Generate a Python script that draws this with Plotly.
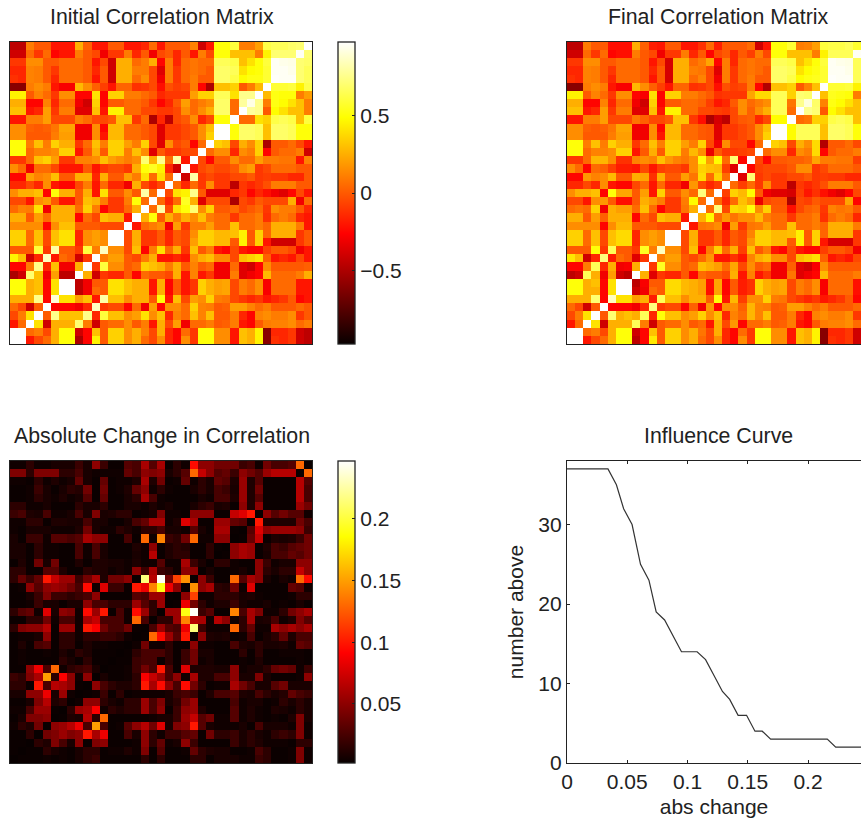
import plotly.graph_objects as go

# upper-left triangles of the symmetric matrices, read row by row from the top (hundredths)
INITIAL_ROWS = [
[-45,-45,10,0,0,-20,-20,-20,25,2,-20,-20,0,0,-20,-20,-15,5,-20,0,0,0,12,-40,-20,50,50,60,10,10,20,62,65,65,68,70,97],
[-40,-40,5,-10,5,-25,-20,-20,10,0,-5,-30,-10,-10,10,-15,0,-30,-5,0,-15,0,-20,10,-5,50,50,30,30,30,10,45,70,70,70,95],
[-10,-10,15,15,0,0,5,5,5,0,-20,-5,-40,25,25,5,10,25,-25,10,-15,5,8,5,5,65,65,62,30,40,50,60,95,93,92],
[-15,-15,12,10,0,-10,5,5,5,0,-15,0,-40,25,25,10,10,-5,-35,10,-10,5,8,5,0,68,68,65,40,48,50,58,95,95],
[-12,-15,12,10,0,-15,5,5,5,0,-20,0,-40,25,25,5,15,-5,-30,10,-10,5,10,0,0,68,68,62,48,52,52,58,96],
[-60,-60,10,15,10,-20,-28,-28,28,15,2,-8,-20,3,3,-12,-10,-5,-22,-3,-8,-5,10,-25,-50,30,30,35,0,10,28,97],
[45,45,0,12,5,-10,15,15,-25,-25,40,-25,35,35,10,10,5,0,-15,-10,-10,-10,20,35,35,65,65,40,75,75,97],
[25,25,-25,-25,12,-15,5,5,-30,-40,35,-25,0,0,5,5,0,-10,-25,-15,0,20,5,10,15,68,68,5,78,92],
[30,30,-20,-15,20,-10,10,10,-35,-35,30,-20,45,45,5,5,-5,-5,-10,-10,-5,15,5,15,25,68,68,5,97],
[-20,-20,10,10,20,-5,-5,-5,10,5,-5,-5,0,30,30,-10,5,-50,-15,-45,-5,0,15,-15,-5,50,50,97],
[15,15,2,0,2,8,22,22,-30,-30,15,-25,28,28,5,5,0,-5,-35,-10,-10,-5,0,15,30,97,97],
[15,15,0,0,0,10,20,20,-30,-30,15,-20,28,28,5,5,0,-5,-35,-10,-10,-5,0,15,35,97],
[50,50,10,30,10,35,25,25,-10,5,30,10,35,35,20,10,35,-5,-35,15,-5,0,-25,5,97],
[50,50,5,12,12,15,35,35,-20,0,25,0,35,35,10,30,15,-35,0,-10,-10,-5,-5,97],
[-10,-10,5,30,35,20,-10,-10,12,12,15,30,20,15,10,15,70,25,75,5,80,-20,97],
[15,5,-30,5,5,-5,-20,-20,-20,0,-20,-10,-5,-5,-10,25,50,55,45,-15,-40,97],
[-25,-25,20,12,15,30,0,0,25,25,-15,25,0,0,20,10,40,5,40,5,97],
[-15,-15,-5,-15,15,-20,-25,-25,-5,10,-20,5,-15,-15,-30,25,-5,-15,-5,97],
[15,25,25,30,-25,50,25,25,0,25,-20,40,0,0,15,0,80,5,97],
[-5,-5,-20,15,20,0,-20,-20,0,30,25,10,-10,-10,10,50,5,97],
[5,12,10,40,-30,25,25,25,5,35,10,-25,-10,-10,5,25,97],
[25,25,0,20,5,25,25,25,-25,5,-5,30,25,25,-20,97],
[15,15,15,15,-25,15,30,30,0,0,0,-5,-5,-5,97],
[35,35,5,30,-5,30,40,40,-15,15,20,15,97,97],
[35,35,5,30,-5,30,40,40,-15,15,20,15,97],
[0,0,0,60,-10,80,0,0,-10,60,10,85],
[45,30,-40,-15,85,-20,5,0,-40,-10,97],
[-25,-25,10,75,-15,30,-30,-30,25,97],
[-50,-40,70,30,-30,20,-45,-45,97],
[50,50,25,30,-25,40,97,97],
[50,50,25,30,-25,40,97],
[25,25,25,75,-25,90],
[5,-5,-40,0,97],
[-5,10,40,97],
[-20,5,97],
[97,97],
[97],
]

FINAL_ROWS = [
[-45,-45,10,0,0,-22,-22,-22,25,2,-18,-20,0,0,-20,-20,-12,5,-17,0,0,0,5,-40,-20,50,50,58,10,12,20,60,62,62,65,57,97],
[-40,-40,5,-10,5,-25,-22,-22,10,0,-5,-30,-10,-10,10,-15,0,-25,-5,0,-15,0,-8,10,-5,50,50,30,30,30,10,45,65,65,65,95],
[-10,-10,15,15,0,0,5,5,5,0,-20,-5,-38,25,25,5,10,22,-25,10,-15,5,8,5,5,65,65,62,30,40,50,60,95,93,92],
[-15,-15,12,10,0,-10,5,5,5,0,-15,0,-38,25,25,10,8,-5,-35,10,-10,5,8,5,0,68,68,65,40,48,52,58,95,95],
[-12,-15,12,10,0,-15,5,5,5,0,-20,0,-38,25,25,5,12,-5,-30,10,-10,5,10,0,0,68,68,62,48,52,54,58,96],
[-60,-60,10,15,10,-20,-28,-28,28,15,2,-8,-20,3,3,-12,-10,-5,-22,-3,-8,-5,10,-25,-48,30,30,35,0,12,30,97],
[45,45,0,12,5,-10,15,15,-25,-28,40,-25,35,35,10,10,5,0,-12,-10,-10,-10,22,38,38,65,65,35,70,68,97],
[25,25,-25,-25,12,-15,5,5,-30,-40,35,-25,0,0,5,5,2,-8,-20,-15,0,15,5,10,15,65,65,8,75,90],
[30,30,-20,-15,20,-10,10,10,-35,-35,30,-20,45,45,5,5,-5,-5,-8,-10,-5,15,2,15,25,65,65,5,97],
[-20,-20,10,10,20,-5,-5,-5,8,2,-5,-5,0,30,30,-10,-22,-50,-38,-45,-5,0,2,-15,-5,48,48,97],
[15,15,2,0,2,8,22,22,-30,-30,15,-25,28,28,5,5,0,-2,-35,-10,-10,-5,0,15,30,97,97],
[15,15,0,0,0,10,20,20,-30,-30,15,-20,28,28,5,5,0,-2,-35,-10,-10,-5,0,15,35,97],
[50,50,10,30,10,35,25,25,-10,5,30,10,35,35,20,10,35,-5,-30,15,-5,-5,-25,5,97],
[50,50,5,12,12,15,35,35,-20,0,25,0,35,35,10,28,15,-32,0,-10,-10,-8,-5,97],
[-10,-10,5,27,27,15,-12,-12,12,15,12,30,18,12,8,15,50,20,48,5,70,-25,97],
[15,5,-25,5,2,-8,-18,-18,-20,-5,-20,-8,-5,-5,-10,15,35,30,28,-8,-35,97],
[-25,-25,18,12,15,28,0,0,25,22,-12,25,0,0,20,8,38,5,35,5,97],
[-15,-15,-5,-15,15,-20,-25,-25,-5,5,-20,5,-15,-15,-30,18,-5,-15,-8,97],
[15,25,25,30,-25,50,22,22,0,20,-20,35,0,0,15,5,72,5,97],
[-5,-5,-20,15,18,0,-22,-22,0,25,18,10,-10,-10,10,48,5,97],
[5,8,5,35,-30,25,20,20,5,30,5,-25,-10,-10,8,25,97],
[25,25,0,20,2,25,25,25,-25,5,-5,30,25,25,-20,97],
[15,15,15,15,-25,15,28,28,0,0,0,-5,-5,-5,97],
[35,35,5,30,-5,30,38,38,-15,15,20,15,97,97],
[35,35,5,30,-5,30,38,38,-15,15,20,15,97],
[0,0,0,50,-10,65,0,0,-10,55,10,85],
[42,30,-40,-15,72,-18,5,0,-35,-10,97],
[-25,-25,10,65,-15,25,-30,-28,25,97],
[-45,-40,65,25,-30,20,-40,-45,97],
[50,50,25,30,-25,40,97,97],
[50,50,25,25,-25,40,97],
[25,25,25,70,-25,85],
[5,-5,-40,0,97],
[-5,10,40,97],
[-20,5,97],
[97,97],
[97],
]

# absolute change (thousandths)
CHANGE_ROWS = [
[5,5,15,5,5,8,8,8,20,8,50,20,3,3,30,25,60,30,60,3,15,5,95,50,50,40,40,40,20,25,5,40,25,25,30,130,3],
[45,45,15,45,45,45,15,15,25,8,5,5,5,5,35,25,50,45,50,8,15,30,130,70,50,30,35,20,50,40,30,55,65,65,65,3],
[5,5,3,15,5,10,5,8,35,8,3,35,3,5,5,10,60,10,40,3,5,35,5,15,8,35,30,10,55,10,30,3,3,3,3],
[3,3,5,20,8,3,8,15,12,40,3,40,3,5,10,35,50,5,15,5,3,3,8,15,8,25,20,8,55,10,40,3,3,3],
[3,3,5,15,8,5,10,5,8,30,3,35,3,3,8,15,60,25,5,3,3,3,3,8,5,25,25,10,55,10,30,3,3],
[15,15,5,5,8,3,3,3,15,8,8,15,3,3,8,8,5,10,5,8,3,3,8,15,20,8,10,3,50,10,50,3],
[20,25,10,8,25,5,5,8,25,8,45,8,10,15,15,3,5,8,45,5,5,3,50,50,50,3,3,70,80,100,0],
[5,5,15,15,3,10,10,8,8,25,8,8,3,3,8,25,35,60,60,5,10,80,60,3,3,55,55,35,30,0],
[5,3,8,8,8,5,5,5,10,40,8,5,5,15,10,5,15,15,25,8,8,5,30,8,3,60,60,3,0],
[8,3,20,20,5,30,30,25,30,60,50,50,3,3,25,3,130,5,140,20,15,40,130,5,5,50,50,0],
[8,8,3,15,5,5,3,3,25,5,25,8,3,3,3,10,5,50,3,10,15,12,3,3,15,3,0],
[8,8,3,15,5,5,3,3,25,5,25,8,3,3,3,8,5,65,3,10,15,15,3,3,15,0],
[3,10,3,40,8,40,3,3,10,3,10,10,8,8,5,10,5,5,30,5,5,60,20,8,0],
[15,15,3,3,30,30,10,3,3,15,10,10,5,8,5,50,20,60,20,15,5,50,50,0],
[15,35,20,35,100,70,55,55,20,40,60,10,40,40,50,3,215,65,245,40,115,145,0],
[3,5,50,30,50,55,50,40,25,95,5,80,20,20,3,100,85,140,190,85,50,0],
[3,3,8,20,45,20,20,15,20,25,50,3,3,3,3,30,25,55,55,3,0],
[3,3,5,20,8,8,3,8,8,50,25,25,15,15,15,55,30,15,55,0],
[15,30,35,5,80,8,50,45,5,95,55,100,3,25,5,95,55,15,0],
[3,3,15,15,40,5,25,25,5,60,70,25,25,25,5,130,25,0],
[15,45,50,50,65,3,55,55,5,100,90,40,25,25,40,3,0],
[3,5,5,8,50,3,15,15,5,15,15,20,20,15,5,0],
[3,10,3,25,30,3,15,15,3,10,5,5,3,3,0],
[3,5,3,3,5,3,10,5,15,10,3,3,3,0],
[3,5,3,3,3,3,15,8,3,15,3,3,0],
[3,3,50,85,25,130,5,15,20,25,8,0],
[20,15,45,60,150,15,90,50,5,50,0],
[15,15,3,100,25,65,60,50,3,0],
[8,8,50,50,85,8,55,5,0],
[3,3,8,45,65,10,15,0],
[5,5,25,55,55,3,0],
[3,8,45,45,50,0],
[5,15,10,40,0],
[3,3,15,0],
[3,3,0],
[3,0],
[0],
]

CURVE_X = [0,0.034,0.041,0.047,0.054,0.061,0.068,0.074,0.081,0.088,0.095,0.108,0.115,0.122,0.129,0.135,0.142,0.149,0.156,0.162,0.169,0.216,0.223,0.25]
CURVE_Y = [37,37,35,32,30,25,23,19,18,16,14,14,13,11,9,8,6,6,4,4,3,3,2,2]

TITLES = ["Initial Correlation Matrix", "Final Correlation Matrix",
          "Absolute Change in Correlation", "Influence Curve"]
CORR_TICKS = [-0.5, 0, 0.5]
CHANGE_TICKS = [0.05, 0.1, 0.15, 0.2]
CURVE_XTICKS = [0, 0.05, 0.1, 0.15, 0.2]
CURVE_XLABELS = ["0", "0.05", "0.1", "0.15", "0.2"]
CURVE_YTICKS = [0, 10, 20, 30]

N = 37
W, H = 861, 822
FONT = "Liberation Sans, Arial, sans-serif"
FS = 21
TXT = "#222222"
HOT = [[0, "rgb(8,0,0)"], [0.365, "rgb(255,0,0)"], [0.75, "rgb(255,255,0)"], [1, "rgb(255,255,255)"]]


def symmetric(rows, scale):
    """Fill a full matrix (z[0] = bottom row) from triangle rows counted from the top."""
    z = [[0.0] * N for _ in range(N)]
    for i, row in enumerate(rows):
        for c, v in enumerate(row):
            r = N - 1 - i          # row from the bottom
            z[r][c] = v / scale
            z[c][r] = v / scale
    return z


def hx(a, b):
    return [a / W, b / W]


def vy(top, bottom):
    return [1 - bottom / H, 1 - top / H]


def bar(x_px, top, bottom, tickvals):
    return dict(
        x=x_px / W, xanchor="left", xref="paper", xpad=0, ypad=0,
        y=1 - bottom / H, yanchor="bottom", yref="paper",
        len=(bottom - top) / H, lenmode="fraction",
        thickness=17, thicknessmode="pixels",
        outlinecolor="#222222", outlinewidth=1.3,
        tickvals=tickvals, ticks="inside", ticklen=3, tickcolor="#222222", tickwidth=1,
        tickfont=dict(family=FONT, size=FS, color=TXT),
    )


fig = go.Figure()
idx = list(range(N))
fig.add_trace(go.Heatmap(z=symmetric(INITIAL_ROWS, 100), x=idx, y=idx, colorscale=HOT, zmin=-0.97, zmax=0.97,
                         colorbar=bar(338, 42, 344, CORR_TICKS), xaxis="x", yaxis="y", hoverinfo="skip"))
fig.add_trace(go.Heatmap(z=symmetric(FINAL_ROWS, 100), x=idx, y=idx, colorscale=HOT, zmin=-0.97, zmax=0.97,
                         showscale=False, xaxis="x2", yaxis="y2", hoverinfo="skip"))
fig.add_trace(go.Heatmap(z=symmetric(CHANGE_ROWS, 1000), x=idx, y=idx, colorscale=HOT, zmin=0.002, zmax=0.247,
                         colorbar=bar(338, 461, 763, CHANGE_TICKS), xaxis="x3", yaxis="y3", hoverinfo="skip"))
fig.add_trace(go.Scatter(x=CURVE_X, y=CURVE_Y, mode="lines", line=dict(color="#333333", width=1.2),
                         xaxis="x4", yaxis="y4", showlegend=False, hoverinfo="skip"))

frame = dict(showline=True, mirror=True, linecolor="#222222", linewidth=1.3, showticklabels=False,
             ticks="", showgrid=False, zeroline=False, automargin=False)
open_right = {**frame, "mirror": False}
crop = -0.5 + (861 - 567) / (302 / N)
title_font = dict(family=FONT, size=21.3, color=TXT)

fig.update_layout(
    width=W, height=H, autosize=False, margin=dict(l=0, r=0, t=0, b=0, pad=0),
    paper_bgcolor="white", plot_bgcolor="white", font=dict(family=FONT, size=FS, color=TXT),
    showlegend=False,
    xaxis=dict(domain=hx(10, 312), range=[-0.5, N - 0.5], anchor="y", **frame),
    yaxis=dict(domain=vy(42, 344), range=[-0.5, N - 0.5], anchor="x", **frame),
    xaxis2=dict(domain=hx(567, 861), range=[-0.5, crop], anchor="y2", **frame),
    yaxis2=dict(domain=vy(42, 344), range=[-0.5, N - 0.5], anchor="x2", **open_right),
    xaxis3=dict(domain=hx(10, 312), range=[-0.5, N - 0.5], anchor="y3", **frame),
    yaxis3=dict(domain=vy(461, 763), range=[-0.5, N - 0.5], anchor="x3", **frame),
    xaxis4=dict(domain=hx(567, 861), range=[0, (861 - 567) / 1205], anchor="y4", showline=True, mirror="ticks",
                linecolor="#222222", linewidth=1.3, ticks="inside", ticklen=3, tickcolor="#222222",
                tickvals=CURVE_XTICKS, ticktext=CURVE_XLABELS, showgrid=False, zeroline=False, automargin=False,
                tickfont=dict(family=FONT, size=FS, color=TXT),
                title=dict(text="abs change", font=dict(family=FONT, size=FS, color=TXT), standoff=6)),
    yaxis4=dict(domain=vy(461, 763), range=[0, 38], anchor="x4", showline=True, mirror=False,
                linecolor="#222222", linewidth=1.3, ticks="inside", ticklen=3, tickcolor="#222222",
                tickvals=CURVE_YTICKS, showgrid=False, zeroline=False, automargin=False,
                tickfont=dict(family=FONT, size=FS, color=TXT),
                title=dict(text="number above", font=dict(family=FONT, size=FS, color=TXT), standoff=8)),
    annotations=[
        dict(text=TITLES[0], x=162 / W, y=1 - 17 / H, xref="paper", yref="paper", showarrow=False, xanchor="center", yanchor="middle", font=title_font),
        dict(text=TITLES[1], x=718 / W, y=1 - 17 / H, xref="paper", yref="paper", showarrow=False, xanchor="center", yanchor="middle", font=title_font),
        dict(text=TITLES[2], x=162 / W, y=1 - 436 / H, xref="paper", yref="paper", showarrow=False, xanchor="center", yanchor="middle", font=title_font),
        dict(text=TITLES[3], x=718 / W, y=1 - 436 / H, xref="paper", yref="paper", showarrow=False, xanchor="center", yanchor="middle", font=title_font),
    ],
)

fig.write_html("out.html", config={"displayModeBar": False},
               post_script="document.body.style.margin='0';document.documentElement.style.overflow='hidden';")
